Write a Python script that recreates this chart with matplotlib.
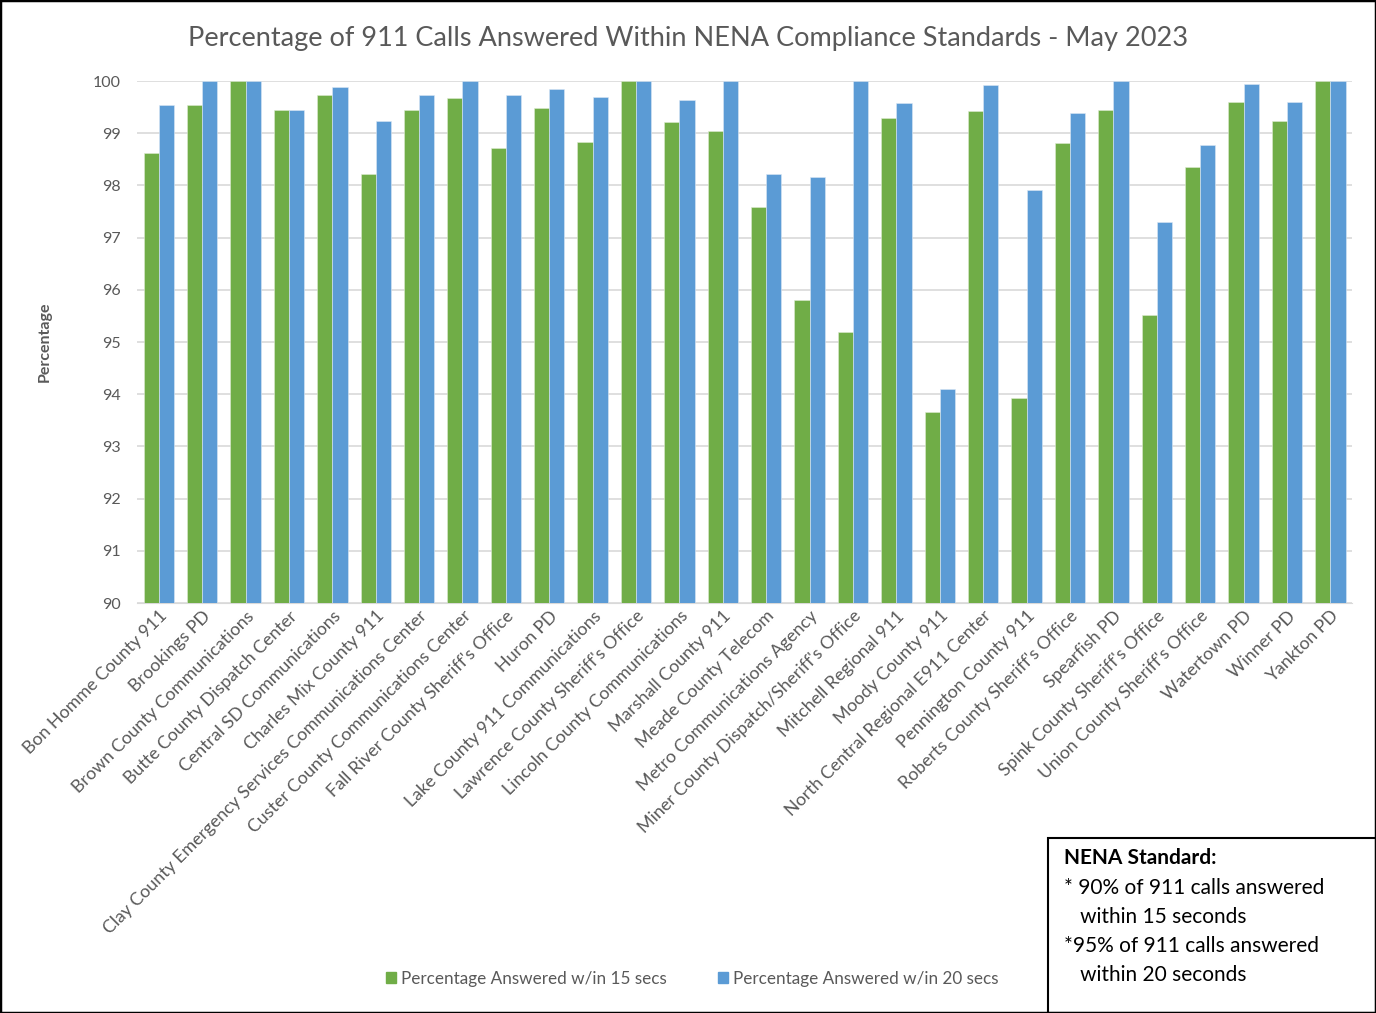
import numpy as np
import matplotlib.pyplot as plt
from matplotlib.patches import Rectangle, Patch

plt.rcParams['font.family'] = ['Lato', 'DejaVu Sans']

# PSAP names, in chart order
centers = [
    "Bon Homme County 911", "Brookings PD", "Brown County Communications",
    "Butte County Dispatch Center", "Central SD Communications", "Charles Mix County 911",
    "Clay County Emergency Services Communications Center",
    "Custer County Communications Center", "Fall River County Sheriff's Office",
    "Huron PD", "Lake County 911 Communications", "Lawrence County Sheriff's Office",
    "Lincoln County Communications", "Marshall County 911", "Meade County Telecom",
    "Metro Communications Agency", "Miner County Dispatch/Sheriff's Office",
    "Mitchell Regional 911", "Moody County 911", "North Central Regional E911 Center",
    "Pennington County 911", "Roberts County Sheriff's Office", "Spearfish PD",
    "Spink County Sheriff's Office", "Union County Sheriff's Office", "Watertown PD",
    "Winner PD", "Yankton PD",
]

# percent answered within 15 s
pct_15 = [98.62, 99.55, 100.0, 99.45, 99.73, 98.22, 99.45, 99.67, 98.72, 99.48,
          98.84, 100.0, 99.21, 99.05, 97.59, 95.80, 95.19, 99.30, 93.66, 99.42,
          93.93, 98.81, 99.45, 95.52, 98.35, 99.60, 99.23, 100.0]

# percent answered within 20 s
pct_20 = [99.55, 100.0, 100.0, 99.45, 99.88, 99.24, 99.73, 100.0, 99.73, 99.85,
          99.70, 100.0, 99.64, 100.0, 98.22, 98.16, 100.0, 99.57, 94.10, 99.92,
          97.92, 99.39, 100.0, 97.30, 98.77, 99.94, 99.60, 100.0]

green = "#70AD47"
blue = "#5B9BD5"
grey = "#595959"

fig = plt.figure(figsize=(13.76, 10.13), dpi=100)
ax = fig.add_axes([0.0996, 0.4047, 0.8830, 0.5153])

x = np.arange(len(centers))
w = 0.35
ax.bar(x - w / 2, pct_15, w, color=green, edgecolor="#DDEBD2", linewidth=0.4, zorder=3)
ax.bar(x + w / 2, pct_20, w, color=blue, edgecolor="#DCE8F5", linewidth=0.4, zorder=3)

ax.set_ylim(90, 100)
ax.set_xlim(-0.5, len(centers) - 0.5)
ax.set_yticks(range(90, 101))
ax.yaxis.grid(True, color="#D9D9D9", linewidth=1.2, zorder=0)
ax.tick_params(axis="both", length=0, colors=grey, labelsize=11.5)
ax.tick_params(axis="y", pad=12)
for s in ["top", "right", "left"]:
    ax.spines[s].set_visible(False)
ax.spines["bottom"].set_color("#D9D9D9")

ax.set_xticks(x)
ax.set_xticklabels(centers, rotation=45, ha="right", rotation_mode="anchor",
                   fontsize=12.8, color=grey)

ax.set_ylabel("Percentage", fontsize=11.5, color=grey, fontweight="bold", labelpad=29)

fig.text(0.5, 0.962, "Percentage of 911 Calls Answered Within NENA Compliance Standards - May 2023",
         ha="center", va="center", fontsize=19.5, color=grey)

handles = [Patch(color=green, label="Percentage Answered w/in 15 secs"),
           Patch(color=blue, label="Percentage Answered w/in 20 secs")]
fig.legend(handles=handles, loc="center", bbox_to_anchor=(0.503, 0.034), ncol=2,
           frameon=False, fontsize=12.3, labelcolor=grey, handlelength=0.6,
           handleheight=0.6, handletextpad=0.3, columnspacing=3.0)

# NENA standard note box
fig.patches.append(Rectangle((1048 / 1376, 0), 1 - 1048 / 1376, 1 - 838 / 1013,
                             transform=fig.transFigure, fill=False,
                             edgecolor="black", linewidth=1.5))
note_x = 1064 / 1376
fig.text(note_x, 1 - 858 / 1013, "NENA Standard:", fontsize=15, fontweight="bold",
         va="center", color="black")
note_lines = ["* 90% of 911 calls answered", "   within 15 seconds",
              "*95% of 911 calls answered", "   within 20 seconds"]
for i, line in enumerate(note_lines):
    fig.text(note_x, 1 - (888 + 29 * i) / 1013, line, fontsize=15, va="center",
             color="black")

# outer frame
fig.patches.append(Rectangle((0, 0), 1, 1, transform=fig.transFigure, fill=False,
                             edgecolor="black", linewidth=2.5))

fig.savefig("out.png", dpi=100)
